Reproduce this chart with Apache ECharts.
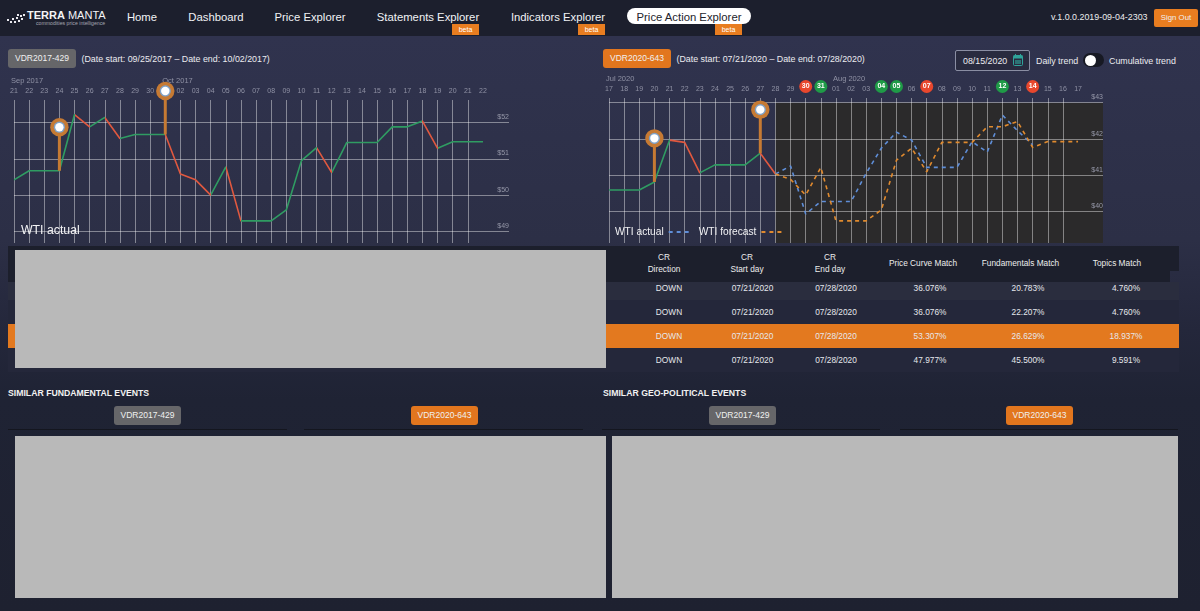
<!DOCTYPE html>
<html>
<head>
<meta charset="utf-8">
<script src="https://cdn.jsdelivr.net/npm/echarts@6/dist/echarts.min.js"></script>
<style>
html,body{margin:0;padding:0;width:1200px;height:611px;overflow:hidden;font-family:"Liberation Sans",Arial,sans-serif;color:#e8e9ee}
body{background:linear-gradient(180deg,#30334e 36px,#2c2f46 240px,#24273b 330px,#1f2334 400px,#1e2130 611px);position:relative}
.a{position:absolute;white-space:nowrap}
#nav{left:0;top:0;width:1200px;height:36px;background:#1c1f2d}
.nv{top:9px;font-size:11.3px;line-height:16px;color:#f1f2f5;transform:translateX(-50%)}
.beta{top:24px;height:11px;width:27px;background:#e87d20;color:#fff;font-size:7px;line-height:11px;text-align:center}
.btn{border-radius:3px;color:#f0f0f0;text-align:center;font-size:8.5px}
.gr{background:#666669}.or{background:#e2761e}
.t{font-size:8.85px;line-height:12px;color:#ececf0}
.gray{background:#b9b9b9}
.h{font-size:8.7px;font-weight:bold;color:#f2f2f2;line-height:12px}
.ul{height:1px;background:#14161f}
.c{font-size:8.3px;line-height:12px;text-align:center;transform:translateX(-50%);color:#e6e7ec}
.chart{position:absolute;top:75px;width:600px;height:175px}
</style>
</head>
<body>
<div class="a" id="nav"></div>
<svg class="a" style="left:6px;top:12px" width="20" height="14" viewBox="0 0 20 14"><g fill="#e8e8ee"><rect x="1" y="7" width="2" height="2"/><rect x="4" y="9" width="2" height="2"/><rect x="6" y="6" width="2" height="2"/><rect x="8" y="9" width="2" height="2"/><rect x="10" y="5" width="2" height="2"/><rect x="12" y="8" width="2" height="2"/><rect x="14" y="3" width="2" height="2"/><rect x="15" y="6" width="2" height="2"/><rect x="17" y="2" width="2" height="2"/><rect x="11" y="2" width="2" height="2"/></g></svg>
<div class="a" style="left:27px;top:7px;font-size:11px;line-height:16px;color:#f4f4f6"><b>TERRA</b> MANTA</div>
<div class="a" style="left:36px;top:20px;font-size:5.2px;line-height:7px;color:#a5a7b2">commodities price intelligence</div>
<div class="a nv" style="left:142px">Home</div>
<div class="a nv" style="left:216px">Dashboard</div>
<div class="a nv" style="left:310px">Price Explorer</div>
<div class="a nv" style="left:428px">Statements Explorer</div>
<div class="a nv" style="left:558px">Indicators Explorer</div>
<div class="a" style="left:627px;top:8px;width:124px;height:16px;border-radius:8px;background:#fff"></div>
<div class="a nv" style="left:689px;color:#23242c">Price Action Explorer</div>
<div class="a beta" style="left:452px">beta</div>
<div class="a beta" style="left:578px">beta</div>
<div class="a beta" style="left:715px">beta</div>
<div class="a" style="left:1051px;top:11px;font-size:8.9px;line-height:13px;color:#eceded">v.1.0.0.2019-09-04-2303</div>
<div class="a btn" style="left:1154px;top:9px;width:44px;height:18px;line-height:18px;background:#e87d20;border-radius:2px;font-size:7.8px">Sign Out</div>

<div class="a btn gr" style="left:8px;top:49px;width:68px;height:19px;line-height:19px">VDR2017-429</div>
<div class="a t" style="left:81.5px;top:53px">(Date start: 09/25/2017 – Date end: 10/02/2017)</div>
<div class="a btn or" style="left:603px;top:49px;width:68px;height:19px;line-height:19px">VDR2020-643</div>
<div class="a t" style="left:676.5px;top:53px">(Date start: 07/21/2020 – Date end: 07/28/2020)</div>
<div class="a" style="left:955px;top:50px;width:73px;height:19px;border:1px solid #8a8ea3;border-radius:2px;background:#292b3f"></div>
<div class="a t" style="left:963px;top:55px">08/15/2020</div>
<svg class="a" style="left:1013px;top:54px" width="10" height="12" viewBox="0 0 10 12"><rect x="0.5" y="1.5" width="9" height="10" rx="1" fill="none" stroke="#2fa39a"/><rect x="0.5" y="1.5" width="9" height="3" fill="#2fa39a"/><rect x="2" y="0" width="1" height="2" fill="#2fa39a"/><rect x="7" y="0" width="1" height="2" fill="#2fa39a"/><rect x="2" y="6" width="6" height="4" fill="#2fa39a" opacity=".6"/></svg>
<div class="a t" style="left:1036px;top:55px">Daily trend</div>
<div class="a" style="left:1083px;top:53px;width:21px;height:14px;border-radius:7px;background:#171923"></div>
<div class="a" style="left:1084.5px;top:54.5px;width:11px;height:11px;border-radius:6px;background:#fff"></div>
<div class="a t" style="left:1109px;top:55px">Cumulative trend</div>

<div class="chart" id="chartA" style="left:0"></div>
<div class="chart" id="chartB" style="left:600px"></div>

<div class="a" style="left:8px;top:246px;width:1171px;height:25px;background:#1c1f2c"></div>
<div class="a" style="left:8px;top:271px;width:1162px;height:11px;background:#1c1f2c"></div>
<div class="a" style="left:8px;top:282px;width:1171px;height:18px;background:#2a2d3e"></div>
<div class="a" style="left:8px;top:300px;width:1171px;height:24px;background:#24273a"></div>
<div class="a" style="left:8px;top:324px;width:1171px;height:24px;background:#e3791f"></div>
<div class="a" style="left:8px;top:348px;width:1171px;height:24px;background:#24273a"></div>
<div id="table"></div>
<div class="a gray" style="left:15px;top:250px;width:591px;height:118px"></div>

<div class="a h" style="left:8px;top:387px">SIMILAR FUNDAMENTAL EVENTS</div>
<div class="a h" style="left:603px;top:387px">SIMILAR GEO-POLITICAL EVENTS</div>
<div class="a btn gr" style="left:114px;top:406px;width:67px;height:19px;line-height:19px">VDR2017-429</div>
<div class="a btn or" style="left:411px;top:406px;width:67px;height:19px;line-height:19px">VDR2020-643</div>
<div class="a btn gr" style="left:709px;top:406px;width:67px;height:19px;line-height:19px">VDR2017-429</div>
<div class="a btn or" style="left:1006px;top:406px;width:67px;height:19px;line-height:19px">VDR2020-643</div>
<div class="a ul" style="left:8px;top:429px;width:279px"></div>
<div class="a ul" style="left:304px;top:429px;width:279px"></div>
<div class="a ul" style="left:602px;top:429px;width:278px"></div>
<div class="a ul" style="left:900px;top:429px;width:278px"></div>
<div class="a gray" style="left:15px;top:436px;width:591px;height:162px"></div>
<div class="a gray" style="left:612px;top:436px;width:566px;height:162px"></div>

<script>
// ---- left chart data
const daysA = ['21','22','23','24','25','26','27','28','29','30','01','02','03','04','05','06','07','08','09','10','11','12','13','14','15','16','17','18','19','20','21','22'];
const actualA = [50.42,50.67,50.67,50.67,52.22,51.88,52.14,51.56,51.67,51.67,51.67,50.58,50.42,50.00,50.78,49.29,49.29,49.29,49.59,50.95,51.31,50.62,51.45,51.45,51.45,51.88,51.88,52.04,51.29,51.47,51.47,51.47];
const monthsA = {0:'Sep 2017',10:'Oct 2017'};
const pinsA = [[3,50.67,51.87],[10,51.67,52.87]];
const yTicksA = [49,50,51,52];
// ---- right chart data
const daysB = ['17','18','19','20','21','22','23','24','25','26','27','28','29','30','31','01','02','03','04','05','06','07','08','09','10','11','12','13','14','15','16','17'];
const actualB = [40.60,40.60,40.60,40.82,41.97,41.91,41.07,41.29,41.29,41.29,41.61,41.04];
const projectedActual = [41.04,41.26,39.94,40.28,40.28,40.28,41.06,41.75,42.19,41.97,41.22,41.22,41.22,41.93,41.64,42.66,42.23,41.84];
const forecast = [41.04,40.89,40.46,41.22,39.75,39.75,39.75,40.05,41.42,41.75,41.10,41.91,41.91,41.91,42.34,42.34,42.48,41.77,41.93,41.93,41.93];
const forecastStart = 11;
const monthsB = {0:'Jul 2020',15:'Aug 2020'};
const pinsB = [[3,40.82,42.02],[10,41.61,42.81]];
const yTicksB = [40,41,42,43];
const redDays = {13:1,21:1,28:1};
const greenDays = {14:1,18:1,19:1,26:1};
// ---- table data
const headers = [['CR','Direction'],['CR','Start day'],['CR','End day'],['Price Curve Match'],['Fundamentals Match'],['Topics Match']];
const rows = [
 ['DOWN','07/21/2020','07/28/2020','36.076%','20.783%','4.760%'],
 ['DOWN','07/21/2020','07/28/2020','36.076%','22.207%','4.760%'],
 ['DOWN','07/21/2020','07/28/2020','53.307%','26.629%','18.937%'],
 ['DOWN','07/21/2020','07/28/2020','47.977%','45.500%','9.591%']
];

const headX = [664,747,830,923,1020.5,1117];
const cellX = [669,752.5,836,930,1028,1126];
let html = '';
headers.forEach((h,i)=>{
  if(h.length===2){
    html += `<div class="a c" style="left:${headX[i]}px;top:251px;color:#eceded">${h[0]}</div><div class="a c" style="left:${headX[i]}px;top:263px;color:#eceded">${h[1]}</div>`;
  } else {
    html += `<div class="a c" style="left:${headX[i]}px;top:257px;color:#eceded">${h[0]}</div>`;
  }
});
rows.forEach((r,j)=>{
  r.forEach((v,i)=>{
    html += `<div class="a c" style="left:${cellX[i]}px;top:${282+24*j}px">${v}</div>`;
  });
});
document.getElementById('table').innerHTML = html;

const GREEN='#2f9c62', RED='#e0583f', BLUE='#5f8ed8', ORANGE='#e08a2e';
const LINE='rgba(255,255,255,0.42)';

function pieces(vals){
  const out=[];
  for(let i=0;i<vals.length-1;i++){
    out.push({gte:i,lt:i+1,color:vals[i+1]<vals[i]?RED:GREEN});
  }
  return out;
}
function pinSeries(pins){
  return {
    type:'custom',silent:true,z:5,clip:false,
    data:pins,
    encode:{x:0,y:[1,2]},
    renderItem(params,api){
      const b=api.coord([api.value(0),api.value(1)]);
      const t=api.coord([api.value(0),api.value(2)]);
      return {type:'group',children:[
        {type:'line',shape:{x1:b[0],y1:b[1],x2:t[0],y2:t[1]},style:{stroke:'#c67a33',lineWidth:3}},
        {type:'circle',shape:{cx:t[0],cy:t[1],r:9.2},style:{fill:'#c67a33'}},
        {type:'circle',shape:{cx:t[0],cy:t[1],r:5.6},style:{fill:'#7fa2c8'}},
        {type:'circle',shape:{cx:t[0],cy:t[1],r:4.2},style:{fill:'#ffffff'}}
      ]};
    }
  };
}
function indexed(vals,start){return vals.map((v,i)=>[i+start,v]);}
function xAxes(days,months,xMax,rich,fmt){
  const idx=days.map((d,i)=>i);
  return [{
    type:'value',position:'top',min:0,max:xMax,z:1,
    axisLine:{show:false},
    axisTick:{show:false,customValues:idx},
    splitLine:{show:true,showMinLine:true,showMaxLine:false,lineStyle:{color:LINE,width:1}},
    axisLabel:{customValues:idx,margin:5,fontSize:7,color:'#8f91a4',fontFamily:'Liberation Sans',showMinLabel:true,showMaxLabel:true,
      formatter:fmt,rich:rich}
  },{
    type:'value',position:'top',offset:10,min:0,max:xMax,
    axisLine:{show:false},
    axisTick:{show:false,customValues:Object.keys(months).map(Number)},
    splitLine:{show:false},
    axisLabel:{customValues:Object.keys(months).map(Number),margin:5,fontSize:7.5,color:'#8f91a4',fontFamily:'Liberation Sans',align:'left',padding:[0,0,0,-3],
      showMinLabel:true,formatter:v=>months[v]}
  }];
}
function yAxis(min,max,ticks){
  return {
    type:'value',position:'right',min:min,max:max,z:1,
    axisLine:{show:false},
    axisTick:{show:false,customValues:ticks},
    splitLine:{show:true,lineStyle:{color:LINE,width:1}},
    axisLabel:{customValues:ticks,inside:true,margin:0,fontSize:7,color:'#9597a8',fontFamily:'Liberation Sans',
      verticalAlign:'bottom',align:'right',padding:[0,0,2,0],formatter:v=>'$'+v}
  };
}

// left chart
const xMaxA=32.72, xMaxB=32.65;
const chartA=echarts.init(document.getElementById('chartA'),null,{renderer:'canvas'});
chartA.setOption({
  animation:false,
  grid:{left:14,top:25,width:495,height:143},
  legend:{left:16,top:149,icon:'none',itemWidth:0,itemGap:0,padding:[0,0,0,0],selectedMode:false,
    textStyle:{color:'#f2f2f4',fontSize:12.3,fontFamily:'Liberation Sans'},data:['WTI actual']},
  visualMap:{show:false,type:'piecewise',dimension:0,seriesIndex:0,pieces:pieces(actualA)},
  xAxis:xAxes(daysA,monthsA,xMaxA,{},v=>daysA[v]),
  yAxis:yAxis(48.68,52.62,yTicksA),
  series:[
    {name:'WTI actual',type:'line',symbol:'none',lineStyle:{width:1.6},data:indexed(actualA,0)},
    pinSeries(pinsA)
  ]
});

// right chart
const rich={
  r:{backgroundColor:'#e8472d',color:'#fff',borderRadius:7,width:13,height:13,lineHeight:13,align:'center',fontSize:7,fontWeight:'bold'},
  g:{backgroundColor:'#1f9a47',color:'#fff',borderRadius:7,width:13,height:13,lineHeight:13,align:'center',fontSize:7,fontWeight:'bold'}
};
const chartB=echarts.init(document.getElementById('chartB'),null,{renderer:'canvas'});
chartB.setOption({
  animation:false,
  grid:{left:9,top:23,width:494,height:145},
  legend:{left:15,top:152,align:'right',itemWidth:20,itemHeight:8,itemGap:9,padding:0,selectedMode:false,
    itemStyle:{opacity:0},lineStyle:{opacity:1},
    textStyle:{color:'#f2f2f4',fontSize:10.2,fontFamily:'Liberation Sans'},data:['WTI actual','WTI forecast']},
  visualMap:{show:false,type:'piecewise',dimension:0,seriesIndex:0,pieces:pieces(actualB)},
  xAxis:xAxes(daysB,monthsB,xMaxB,rich,v=>redDays[v]?`{r|${daysB[v]}}`:greenDays[v]?`{g|${daysB[v]}}`:daysB[v]),
  yAxis:yAxis(39.14,43.13,yTicksB),
  series:[
    {name:'WTI history',type:'line',symbol:'none',lineStyle:{width:1.6},data:indexed(actualB,0),
     markArea:{silent:true,z:0,itemStyle:{color:'#2b2a2b',opacity:1},data:[[{xAxis:forecastStart,yAxis:43},{xAxis:xMaxB,yAxis:39.14}]]}},
    {name:'WTI actual',type:'line',symbol:'none',lineStyle:{width:1.6,color:BLUE,type:[4,4]},itemStyle:{color:BLUE},data:indexed(projectedActual,forecastStart)},
    {name:'WTI forecast',type:'line',symbol:'none',lineStyle:{width:1.6,color:ORANGE,type:[4,4]},itemStyle:{color:ORANGE},data:indexed(forecast,forecastStart)},
    pinSeries(pinsB)
  ]
});
</script>
</body>
</html>
